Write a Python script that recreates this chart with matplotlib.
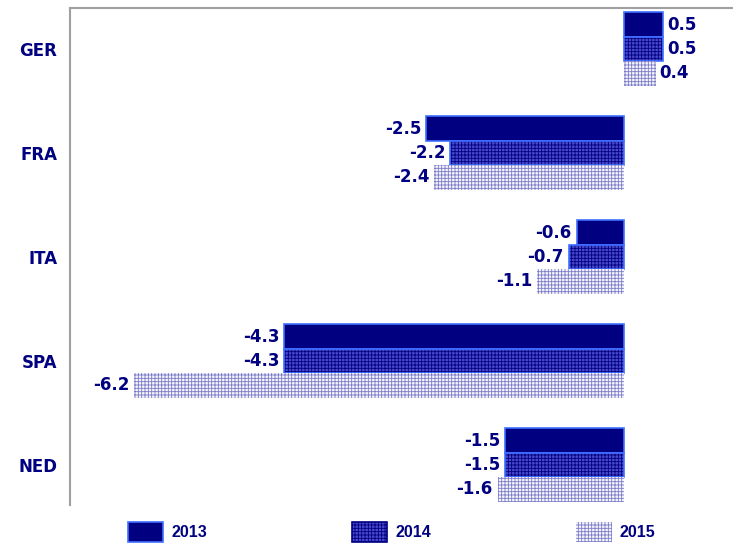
import matplotlib.pyplot as plt
from matplotlib.patches import Patch

countries = ["GER", "FRA", "ITA", "SPA", "NED"]
years = ["2013", "2014", "2015"]
vals_2013 = [0.5, -2.5, -0.6, -4.3, -1.5]
vals_2014 = [0.5, -2.2, -0.7, -4.3, -1.5]
vals_2015 = [0.4, -2.4, -1.1, -6.2, -1.6]

navy = "#000080"
edge_blue = "#3f6fff"
plt.rcParams["hatch.linewidth"] = 0.6

fig = plt.figure(figsize=(7.33, 5.43), dpi=100)
ax = fig.add_axes([70 / 733, 38 / 543, 663 / 733, 497 / 543])

h = 0.235
pos = list(range(len(countries)))
style_13 = dict(facecolor=navy, edgecolor=edge_blue, linewidth=1.2)
style_14 = dict(facecolor="#4848cc", edgecolor=navy, hatch="+++++", linewidth=0)
style_15 = dict(facecolor="#f4f4fb", edgecolor="#7c7cca", hatch="+++++", linewidth=0)
series = [(vals_2013, -h, style_13), (vals_2014, 0, style_14), (vals_2015, h, style_15)]

for vals, off, style in series:
    ypos = [p + off for p in pos]
    ax.barh(ypos, vals, height=h, **style)
    if off == 0:
        ax.barh(ypos, vals, height=h, fill=False, edgecolor=edge_blue, linewidth=1.2)
    for y, v in zip(ypos, vals):
        ha = "left" if v >= 0 else "right"
        dx = 0.05 if v >= 0 else -0.06
        ax.text(v + dx, y, f"{v:.1f}", ha=ha, va="center", color=navy,
                fontsize=12, fontweight="bold")

ax.set_xlim(-7.01, 1.38)
ax.set_ylim(4.385, -0.394)
ax.set_yticks(pos)
ax.set_yticklabels(countries, fontsize=12, fontweight="bold", color=navy)
ax.set_xticks([])
ax.tick_params(axis="y", length=0, pad=9)
for s in ["right", "bottom"]:
    ax.spines[s].set_visible(False)
for s in ["left", "top"]:
    ax.spines[s].set_color("#a0a0a0")
    ax.spines[s].set_linewidth(1.5)

handles = [Patch(**style_13), Patch(**style_14), Patch(**style_15)]
handles[1].set_linewidth(1.2)
handles[1].set_edgecolor(navy)
leg = fig.legend(handles, years, loc="center left", bbox_to_anchor=(128 / 733, 11 / 543),
                 ncol=3, frameon=False, handlelength=2.2, handleheight=1.6,
                 handletextpad=0.5, columnspacing=9.1, borderpad=0, borderaxespad=0,
                 prop={"family": "Liberation Sans", "weight": "bold", "size": 11.5})
for t in leg.get_texts():
    t.set_color(navy)

fig.savefig("out.png", dpi=100)
